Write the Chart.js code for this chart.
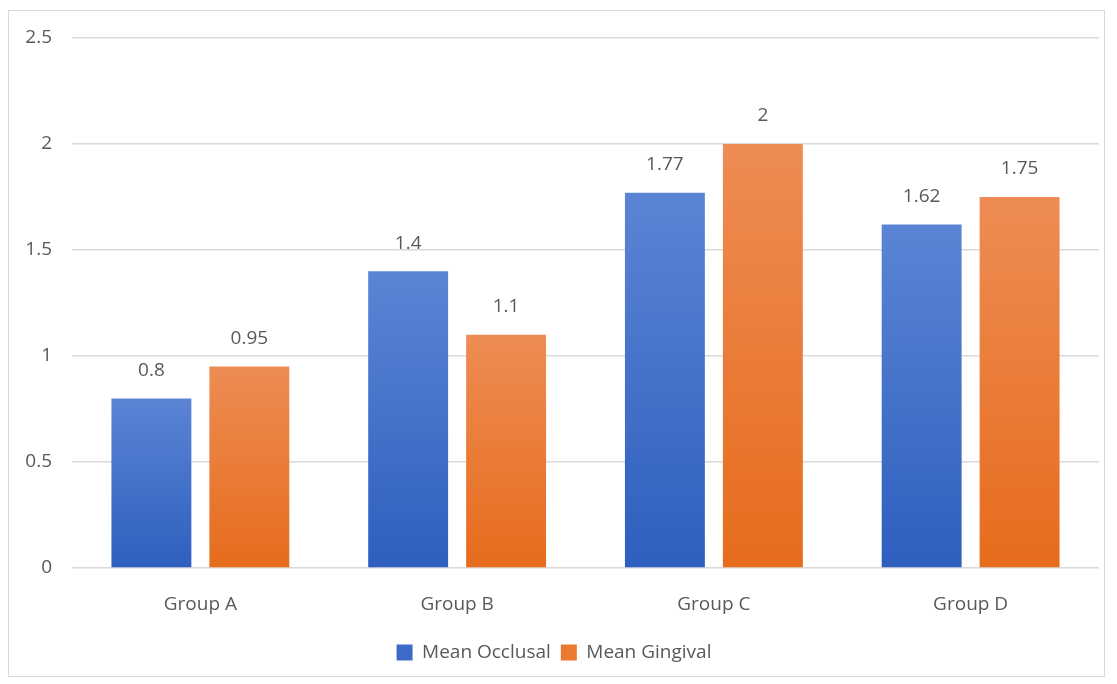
<!DOCTYPE html>
<html>
<head>
<meta charset="utf-8">
<script src="https://cdn.jsdelivr.net/npm/chart.js@4/dist/chart.umd.min.js"></script>
<style>
    html, body { margin: 0; padding: 0; background: #ffffff; }
    .chart-box {
        position: absolute;
        left: 8px;
        top: 10px;
        width: 1097px;
        height: 667px;
        border: 1px solid #d9d9d9;
        box-sizing: border-box;
    }
</style>
</head>
<body>
<div class="chart-box">
    <canvas id="groupChart"></canvas>
</div>
<script>
// Chart data
const groups = ['Group A', 'Group B', 'Group C', 'Group D'];
const meanOcclusal = [0.8, 1.4, 1.77, 1.62];
const meanGingival = [0.95, 1.1, 2, 1.75];
const yTicks = [0, 0.5, 1, 1.5, 2, 2.5];

const fontFamily = "'Open Sans', 'Noto Sans', sans-serif";
const textColor = '#595959';
const fontSize = 19;

// Per-bar vertical gradient, lighter at the top like the Excel look
function barGradient(topColor, bottomColor) {
    return function(context) {
        const chart = context.chart;
        const yScale = chart.scales.y;
        if (!chart.chartArea || !yScale || context.parsed === undefined) return bottomColor;
        const top = yScale.getPixelForValue(context.parsed.y);
        const bottom = yScale.getPixelForValue(0);
        const g = chart.ctx.createLinearGradient(0, top, 0, bottom);
        g.addColorStop(0, topColor);
        g.addColorStop(1, bottomColor);
        return g;
    };
}

// Value labels above each bar
const valueLabels = {
    id: 'valueLabels',
    afterDatasetsDraw(chart) {
        const ctx = chart.ctx;
        ctx.save();
        ctx.font = fontSize + 'px ' + fontFamily;
        ctx.fillStyle = textColor;
        ctx.textAlign = 'center';
        ctx.textBaseline = 'middle';
        chart.data.datasets.forEach((ds, i) => {
            chart.getDatasetMeta(i).data.forEach((bar, j) => {
                ctx.fillText(String(ds.data[j]), bar.x, bar.y - 28);
            });
        });
        ctx.restore();
    }
};

new Chart(document.getElementById('groupChart'), {
    type: 'bar',
    data: {
        labels: groups,
        datasets: [{
            label: 'Mean Occlusal',
            data: meanOcclusal,
            backgroundColor: barGradient('#5b84d4', '#2e5fbf'),
            borderWidth: 0
        }, {
            label: 'Mean Gingival',
            data: meanGingival,
            backgroundColor: barGradient('#ee8c54', '#e66c1c'),
            borderWidth: 0
        }]
    },
    options: {
        responsive: true,
        maintainAspectRatio: false,
        animation: false,
        categoryPercentage: 0.763,
        barPercentage: 0.816,
        layout: {
            padding: { top: 27, left: 0, right: 5, bottom: 4 }
        },
        plugins: {
            legend: {
                position: 'bottom',
                labels: {
                    boxWidth: 16,
                    boxHeight: 16,
                    color: textColor,
                    padding: 10,
                    font: { family: fontFamily, size: fontSize },
                    generateLabels: function(chart) {
                        const cols = ['#3c6cc8', '#ea7a30'];
                        return chart.data.datasets.map((ds, i) => ({
                            text: ds.label,
                            fillStyle: cols[i],
                            strokeStyle: cols[i],
                            lineWidth: 0,
                            fontColor: textColor,
                            datasetIndex: i
                        }));
                    }
                }
            },
            tooltip: { enabled: false }
        },
        scales: {
            x: {
                grid: { display: false },
                border: { display: false },
                afterFit: function(axis) { axis.height = 65; },
                ticks: {
                    color: textColor,
                    padding: 17,
                    font: { family: fontFamily, size: fontSize }
                }
            },
            y: {
                min: 0,
                max: 2.5,
                afterBuildTicks: function(axis) {
                    axis.ticks = yTicks.map(v => ({ value: v }));
                },
                afterFit: function(axis) {
                    axis.width = 63;
                    axis.paddingTop = 0;
                    axis.paddingBottom = 0;
                },
                grid: { color: '#d9d9d9', lineWidth: 1.5, drawTicks: false },
                border: { display: false },
                ticks: {
                    color: textColor,
                    padding: 20,
                    font: { family: fontFamily, size: fontSize },
                    callback: function(value) { return String(value); }
                }
            }
        }
    },
    plugins: [valueLabels]
});
</script>
</body>
</html>
